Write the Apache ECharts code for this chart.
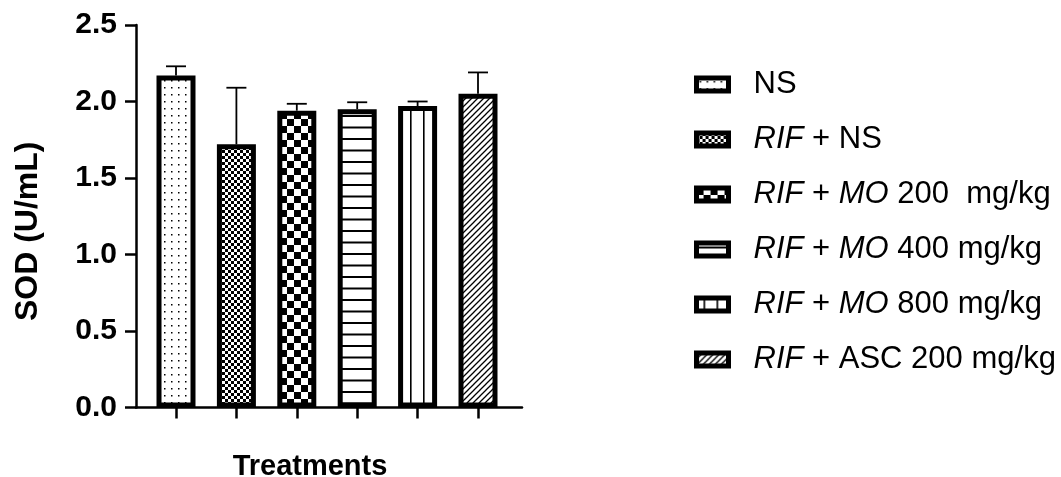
<!DOCTYPE html>
<html>
<head>
<meta charset="utf-8">
<style>
  html, body { margin: 0; padding: 0; background: #fff; }
  #chart { width: 1061px; height: 477px; }
</style>
<script src="https://cdn.jsdelivr.net/npm/echarts@6/dist/echarts.min.js"></script>
</head>
<body>
<div id="chart"></div>
<script>
// Treatment groups (legend names)
const categories = [
  'NS',
  'RIF + NS',
  'RIF + MO 200  mg/kg',
  'RIF + MO 400 mg/kg',
  'RIF + MO 800 mg/kg',
  'RIF + ASC 200 mg/kg'
];
// Mean SOD activity (U/mL) per group
const means = [2.17, 1.72, 1.94, 1.95, 1.97, 2.05];
// Standard deviation (upper error bar only)
const sds = [0.06, 0.37, 0.045, 0.045, 0.03, 0.14];
// Y axis tick values
const yTicks = [0.0, 0.5, 1.0, 1.5, 2.0, 2.5];

const FONT = '"Liberation Sans", Arial, Helvetica, sans-serif';

// ---- fill patterns drawn on small tiles ----
function tile(w, h, draw) {
  const c = document.createElement('canvas');
  c.width = w; c.height = h;
  const g = c.getContext('2d');
  g.fillStyle = '#fff';
  g.fillRect(0, 0, w, h);
  g.fillStyle = '#000';
  g.strokeStyle = '#000';
  draw(g, w, h);
  return { image: c, repeat: 'repeat' };
}
const patterns = [
  // sparse dots
  tile(7, 7, g => { g.fillRect(3, 3, 1.5, 1.5); }),
  // fine checkerboard
  tile(6, 6, g => { g.fillRect(0, 0, 3, 3); g.fillRect(3, 3, 3, 3); }),
  // coarse checkerboard
  tile(14, 14, g => { g.fillRect(0, 0, 7, 7); g.fillRect(7, 7, 7, 7); }),
  // horizontal lines
  tile(4, 23, g => { g.fillRect(0, 0, 4, 2); g.fillRect(0, 11.5, 4, 2); }),
  // vertical lines
  tile(13, 4, g => { g.fillRect(7, 0, 1.6, 4); }),
  // diagonal hatching
  tile(6, 6, g => {
    g.lineWidth = 1.3;
    g.beginPath();
    g.moveTo(-1, 7); g.lineTo(7, -1);
    g.moveTo(-4, 4); g.lineTo(4, -4);
    g.moveTo(2, 10); g.lineTo(10, 2);
    g.stroke();
  })
];
// legend swatches: same fills, horizontal lines phased to cross the small swatch
const legendPatterns = patterns.slice();
legendPatterns[3] = tile(4, 23, g => { g.fillRect(0, 3.5, 4, 2); g.fillRect(0, 15, 4, 2); });

const BAR_OUTER = 39;   // outer bar width in px, border included
const BAR_BORDER = 5;   // thick black outline, drawn inside the bar extent

const chart = echarts.init(document.getElementById('chart'), null, { renderer: 'canvas' });

// one series per group so every group gets its own legend entry and fill
const barSeries = categories.map((name, k) => ({
  name: name,
  type: 'custom',
  xAxisIndex: 1,
  yAxisIndex: 1,
  z: 2,
  silent: true,
  itemStyle: { color: patterns[k], borderColor: '#000', borderWidth: BAR_BORDER },
  data: [[k, means[k]]],
  renderItem: function (params, api) {
    const base = api.coord([api.value(0), 0]);
    const top = api.coord([api.value(0), api.value(1)]);
    return {
      type: 'rect',
      shape: {
        x: base[0] - BAR_OUTER / 2 + BAR_BORDER / 2,
        y: top[1] + BAR_BORDER / 2,
        width: BAR_OUTER - BAR_BORDER,
        height: base[1] - top[1] - BAR_BORDER
      },
      style: { fill: patterns[k], stroke: '#000', lineWidth: BAR_BORDER }
    };
  }
}));

const errorSeries = {
  type: 'custom',
  xAxisIndex: 1,
  yAxisIndex: 1,
  z: 3,
  silent: true,
  data: means.map((m, i) => [i, m, m + sds[i]]),
  renderItem: function (params, api) {
    const p0 = api.coord([api.value(0), api.value(1)]);
    const p1 = api.coord([api.value(0), api.value(2)]);
    const style = { stroke: '#000', lineWidth: 1.8 };
    return {
      type: 'group',
      children: [
        { type: 'line', shape: { x1: p0[0], y1: p0[1], x2: p1[0], y2: p1[1] }, style: style },
        { type: 'line', shape: { x1: p1[0] - 10, y1: p1[1], x2: p1[0] + 10, y2: p1[1] }, style: style }
      ]
    };
  }
};

const option = {
  animation: false,
  backgroundColor: '#fff',
  textStyle: { fontFamily: FONT },
  grid: [
    // frame grid: carries the visible axis lines, y ticks and labels
    { left: 136, right: 1061 - 522, top: 25, bottom: 477 - 407.5, outerBoundsMode: 'none', containLabel: false },
    // bar grid: category bands
    { left: 145.8, right: 1061 - 508.2, top: 25, bottom: 477 - 407.5, outerBoundsMode: 'none', containLabel: false }
  ],
  xAxis: [
    {
      type: 'value', gridIndex: 0, min: 0, max: 1,
      axisLine: { show: true, lineStyle: { color: '#000', width: 2.5 } },
      axisTick: { show: false }, axisLabel: { show: false }, splitLine: { show: false },
      name: 'Treatments', nameLocation: 'middle', nameGap: 45,
      nameTextStyle: { fontFamily: FONT, fontSize: 29, fontWeight: 'bold', color: '#000', padding: [0, 38, 0, 0] }
    },
    {
      type: 'category', gridIndex: 1, data: categories,
      axisLine: { show: false },
      axisTick: { show: true, interval: 0, alignWithLabel: true, length: 11, lineStyle: { color: '#000', width: 2.5 } },
      axisLabel: { show: false, interval: 0 }
    }
  ],
  yAxis: [
    {
      type: 'value', gridIndex: 0, min: yTicks[0], max: yTicks[yTicks.length - 1], interval: 0.5,
      axisLine: { show: true, lineStyle: { color: '#000', width: 2.5 } },
      axisTick: { show: true, length: 11, lineStyle: { color: '#000', width: 2.5 } },
      axisLabel: {
        fontFamily: FONT, fontSize: 30, fontWeight: 'bold', color: '#000', margin: 19,
        formatter: v => v.toFixed(1)
      },
      splitLine: { show: false },
      name: 'SOD (U/mL)', nameLocation: 'middle', nameGap: 92,
      nameTextStyle: { fontFamily: FONT, fontSize: 32, fontWeight: 'bold', color: '#000', padding: [0, 30, 0, 0] }
    },
    {
      type: 'value', gridIndex: 1, min: yTicks[0], max: yTicks[yTicks.length - 1],
      show: false
    }
  ],
  legend: {
    data: categories.map((name, k) => ({
      name: name,
      itemStyle: { color: legendPatterns[k], borderColor: '#000', borderWidth: 5 }
    })),
    orient: 'vertical',
    left: 689,
    top: 64,
    icon: 'rect',
    itemWidth: 32,
    itemHeight: 13,
    itemGap: 24,
    selectedMode: false,
    textStyle: {
      fontFamily: FONT, fontSize: 31, color: '#000', lineHeight: 30,
      padding: [0, 0, 0, 20],
      rich: { i: { fontFamily: FONT, fontSize: 31, fontStyle: 'italic', color: '#000' } }
    },
    formatter: name => name.replace(/RIF|MO/g, m => '{i|' + m + '}')
  },
  series: barSeries.concat([errorSeries])
};

chart.setOption(option);
</script>
</body>
</html>
